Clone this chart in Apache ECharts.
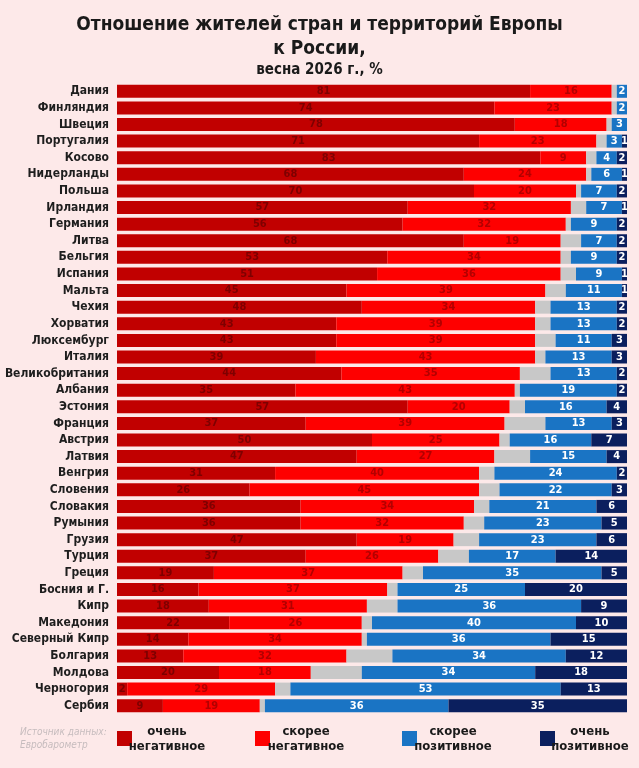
<!DOCTYPE html>
<html>
<head>
<meta charset="utf-8">
<style>
  html, body { margin: 0; padding: 0; background: #fde9e9; }
  #main { width: 639px; height: 768px; }
</style>
<script src="https://cdn.jsdelivr.net/npm/echarts@6/dist/echarts.min.js"></script>
</head>
<body>
<div id="main"></div>
<script>
// страны сверху вниз
var countries = ['Дания', 'Финляндия', 'Швеция', 'Португалия', 'Косово', 'Нидерланды', 'Польша', 'Ирландия',
  'Германия', 'Литва', 'Бельгия', 'Испания', 'Мальта', 'Чехия', 'Хорватия', 'Люксембург', 'Италия',
  'Великобритания', 'Албания', 'Эстония', 'Франция', 'Австрия', 'Латвия', 'Венгрия', 'Словения',
  'Словакия', 'Румыния', 'Грузия', 'Турция', 'Греция', 'Босния и Г.', 'Кипр', 'Македония',
  'Северный Кипр', 'Болгария', 'Молдова', 'Черногория', 'Сербия']

var veryNeg = [81, 74, 78, 71, 83, 68, 70, 57, 56, 68, 53, 51, 45, 48, 43, 43, 39, 44, 35, 57, 37, 50, 47, 31, 26,
  36, 36, 47, 37, 19, 16, 18, 22, 14, 13, 20, 2, 9]
var ratherNeg = [16, 23, 18, 23, 9, 24, 20, 32, 32, 19, 34, 36, 39, 34, 39, 39, 43, 35, 43, 20, 39, 25, 27, 40, 45,
  34, 32, 19, 26, 37, 37, 31, 26, 34, 32, 18, 29, 19]
var noAnswer = [1, 1, 1, 2, 2, 1, 1, 3, 1, 4, 2, 3, 4, 3, 3, 4, 2, 6, 1, 3, 8, 2, 7, 3, 4,
  3, 4, 5, 6, 4, 2, 6, 2, 1, 9, 10, 3, 1]
var ratherPos = [2, 2, 3, 3, 4, 6, 7, 7, 9, 7, 9, 9, 11, 13, 13, 11, 13, 13, 19, 16, 13, 16, 15, 24, 22,
  21, 23, 23, 17, 35, 25, 36, 40, 36, 34, 34, 53, 36]
var veryPos = [0, 0, 0, 1, 2, 1, 2, 1, 2, 2, 2, 1, 1, 2, 2, 3, 3, 2, 2, 4, 3, 7, 4, 2, 3,
  6, 5, 6, 14, 5, 20, 9, 10, 15, 12, 18, 13, 35]

var legendNames = ['очень\nнегативное', 'скорее\nнегативное', 'скорее\nпозитивное', 'очень\nпозитивное']
var colors = ['#c10000', '#fe0000', '#c8c8c8', '#1a74c4', '#0b1f5e']

var font = "'Liberation Sans Narrow', 'DejaVu Sans Condensed', sans-serif"
var myChart = echarts.init(document.getElementById('main'))

function seg(name, data, color, labelColor) {
  return {
    name: name,
    type: 'bar',
    stack: 'all',
    barWidth: 13,
    data: data,
    itemStyle: { color: color },
    label: {
      show: !!labelColor,
      position: 'inside',
      color: labelColor,
      fontFamily: font,
      fontSize: 11,
      fontWeight: 'bold',
      formatter: function (p) { return p.value ? p.value : '' }
    },
    emphasis: { disabled: true }
  }
}

// легенда руками
var legendX = [117, 255, 402, 540]
var legendTextX = [167, 306, 453, 590]
var legendColors = [colors[0], colors[1], colors[3], colors[4]]
var graphics = []
legendNames.forEach(function (n, i) {
  graphics.push({
    type: 'rect', x: legendX[i], y: 731,
    shape: { width: 15, height: 15 },
    style: { fill: legendColors[i] }
  })
  graphics.push({
    type: 'text', x: legendTextX[i], y: 724,
    style: {
      text: n, fill: '#1a1a1a', font: 'bold 13px ' + font,
      align: 'center', verticalAlign: 'top', lineHeight: 15
    }
  })
})
graphics.push({
  type: 'text', x: 20, y: 726,
  style: {
    text: 'Источник данных:\nЕвробарометр', fill: '#c6bcbe',
    font: 'italic 10px ' + font, lineHeight: 13
  }
})

myChart.setOption({
  backgroundColor: '#fde9e9',
  animation: false,
  title: [{
    text: 'Отношение жителей стран и территорий Европы\nк России,',
    left: 'center', top: 8,
    textStyle: { fontFamily: font, fontSize: 19, fontWeight: 'bold', color: '#1a1a1a', lineHeight: 24, align: 'center' }
  }, {
    text: 'весна 2026 г., %',
    left: 'center', top: 58,
    textStyle: { fontFamily: font, fontSize: 15, fontWeight: 'bold', color: '#1a1a1a' }
  }],
  grid: { left: 117, right: 12, top: 83, height: 631, outerBoundsMode: 'none', containLabel: false },
  xAxis: { type: 'value', min: 0, max: 100, show: false },
  yAxis: {
    type: 'category',
    inverse: true,
    data: countries,
    axisLine: { show: false },
    axisTick: { show: false },
    axisLabel: { interval: 0, color: '#1e1e1e', fontFamily: font, fontSize: 12, fontWeight: 'bold', margin: 8 }
  },
  series: [
    seg('очень негативное', veryNeg, colors[0], '#7e0000'),
    seg('скорее негативное', ratherNeg, colors[1], '#b30000'),
    seg('нет ответа', noAnswer, colors[2], null),
    seg('скорее позитивное', ratherPos, colors[3], '#ffffff'),
    seg('очень позитивное', veryPos, colors[4], '#ffffff')
  ],
  graphic: graphics
})
</script>
</body>
</html>
